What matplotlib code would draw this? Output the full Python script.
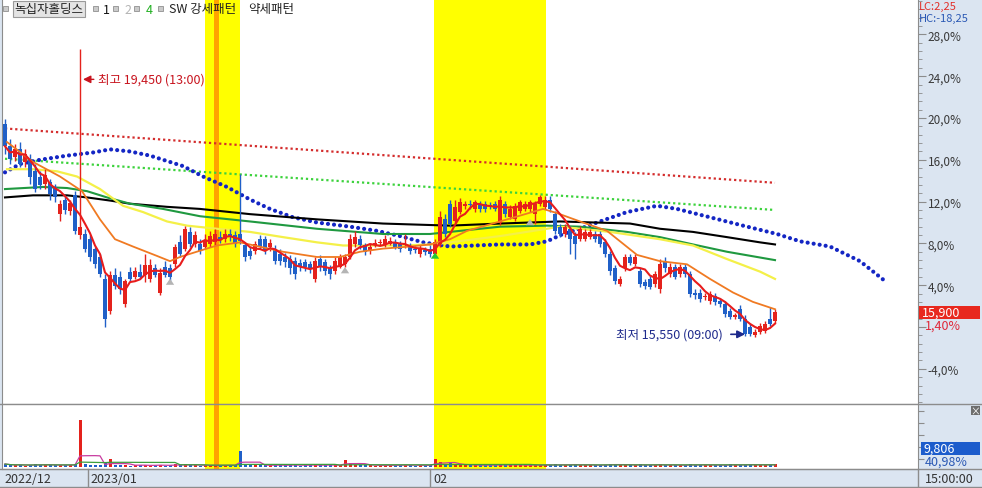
import numpy as np
import pandas as pd
import matplotlib
matplotlib.use('Agg')
import matplotlib.pyplot as plt
from matplotlib.patches import Rectangle
from matplotlib.lines import Line2D
from matplotlib.ticker import MultipleLocator

plt.rcParams['font.family'] = ['Noto Sans CJK KR', 'DejaVu Sans']

# candles, in % from the base price
opens = [
    19.4, 17.3, 16.3, 17.0, 15.8, 16.1, 14.9, 14.4, 13.7, 13.9,
    13.4, 10.8, 12.2, 11.1, 12.6, 8.8, 8.9, 8.4, 7.5, 6.7,
    4.6, 1.5, 5.0, 4.8, 2.2, 5.3, 4.8, 5.3, 5.0, 4.6,
    5.6, 3.3, 5.7, 5.6, 6.0, 8.1, 7.5, 9.1, 7.9, 7.9,
    7.7, 7.9, 8.1, 8.6, 8.4, 8.9, 8.8, 8.9, 7.8, 7.3,
    7.3, 8.4, 8.4, 7.7, 7.5, 7.0, 6.7, 6.5, 6.3, 6.1,
    6.2, 6.0, 4.6, 6.5, 6.2, 5.6, 5.4, 5.7, 6.0, 6.7,
    7.9, 8.4, 7.8, 7.3, 7.8, 8.0, 7.9, 7.9, 8.1, 7.9,
    7.8, 7.7, 7.5, 7.0, 7.4, 7.5, 7.0, 7.9, 10.3, 11.8,
    10.1, 11.0, 11.6, 11.8, 11.3, 11.8, 11.8, 11.7, 11.8, 10.0,
    11.8, 10.5, 10.3, 11.1, 11.3, 11.3, 10.8, 11.8, 11.5, 12.2,
    10.8, 9.6, 8.9, 9.4, 8.7, 8.4, 8.4, 8.6, 8.9, 8.9,
    8.1, 7.0, 5.6, 4.1, 5.6, 6.7, 6.0, 5.4, 4.3, 4.6,
    4.1, 3.6, 6.3, 5.1, 5.7, 5.1, 5.7, 5.1, 3.3, 3.3,
    2.9, 2.5, 3.0, 2.5, 2.2, 1.5, 1.0, 1.7, 0.8, 0.0,
    -0.8, -0.5, -0.4, 0.8, 0.6]
highs = [
    19.9, 18.0, 17.5, 17.7, 17.0, 16.6, 15.6, 14.9, 15.1, 14.2,
    13.7, 12.2, 12.6, 12.2, 13.0, 26.6, 9.4, 8.8, 7.7, 7.0,
    5.1, 5.4, 5.6, 5.4, 4.6, 5.7, 5.7, 6.0, 7.0, 6.5,
    6.0, 5.6, 6.3, 6.0, 7.9, 8.8, 9.7, 9.6, 9.2, 8.4,
    8.9, 9.2, 9.4, 9.2, 9.4, 9.4, 9.2, 14.6, 8.0, 7.7,
    8.2, 8.8, 8.7, 8.4, 7.8, 7.5, 7.1, 6.9, 6.7, 6.5,
    6.5, 6.3, 6.7, 6.9, 6.5, 5.9, 6.7, 7.0, 7.0, 8.9,
    9.2, 8.8, 8.0, 7.9, 8.4, 8.4, 8.8, 8.6, 8.4, 8.2,
    8.9, 8.0, 7.8, 7.8, 7.7, 7.8, 8.4, 11.1, 10.8, 12.2,
    12.2, 12.3, 12.1, 12.2, 12.2, 12.1, 12.1, 12.0, 12.1, 12.5,
    12.1, 11.7, 11.9, 12.2, 12.1, 12.2, 12.1, 12.6, 12.5, 12.5,
    11.1, 9.9, 9.9, 9.7, 9.1, 9.7, 9.4, 9.4, 9.2, 9.2,
    8.4, 7.3, 5.9, 4.9, 7.0, 7.0, 7.0, 5.6, 4.6, 4.9,
    5.4, 6.5, 6.7, 6.1, 6.0, 6.0, 6.0, 5.4, 3.6, 3.6,
    3.3, 3.4, 3.3, 2.8, 2.5, 1.8, 1.3, 2.1, 1.1, 0.3,
    -0.2, 0.4, 0.6, 1.9, 1.7]
lows = [
    16.6, 15.6, 15.9, 15.3, 15.3, 13.7, 12.9, 13.2, 13.2, 12.2,
    12.0, 10.1, 10.8, 10.7, 8.9, 8.4, 7.2, 6.3, 5.6, 4.8,
    0.0, 1.2, 3.6, 3.2, 1.9, 4.4, 4.6, 4.6, 4.3, 4.3,
    4.8, 3.1, 4.8, 4.4, 5.7, 6.7, 7.3, 7.7, 7.7, 7.0,
    7.5, 7.7, 7.8, 8.0, 8.1, 8.2, 7.7, 7.9, 6.3, 6.5,
    7.0, 7.5, 7.0, 7.3, 6.0, 5.9, 5.7, 5.1, 4.6, 5.4,
    5.4, 5.2, 4.3, 5.4, 5.0, 4.6, 5.1, 5.6, 5.7, 6.5,
    7.7, 7.5, 6.9, 7.0, 7.7, 7.8, 7.7, 7.8, 7.5, 7.2,
    7.6, 7.0, 7.1, 6.7, 6.9, 6.7, 6.7, 7.7, 8.6, 9.6,
    9.9, 10.8, 11.3, 11.3, 11.0, 11.0, 11.0, 11.3, 11.1, 9.8,
    10.5, 10.3, 10.1, 10.9, 11.1, 11.0, 9.9, 11.6, 11.3, 11.0,
    8.9, 8.6, 8.6, 7.0, 6.5, 8.2, 8.2, 8.4, 8.1, 7.7,
    6.7, 5.0, 4.1, 3.9, 5.4, 5.9, 5.8, 3.8, 3.6, 3.6,
    3.8, 3.3, 5.3, 4.8, 4.6, 4.8, 4.8, 2.9, 2.7, 2.4,
    2.6, 2.2, 2.1, 1.9, 1.0, 0.8, 0.8, 0.6, -0.9, -0.9,
    -1.0, -0.7, -0.6, 0.1, 0.4]
closes = [
    17.3, 16.1, 17.0, 15.6, 16.6, 14.4, 13.2, 13.6, 14.5, 12.7,
    12.4, 11.8, 11.2, 11.9, 9.2, 9.6, 7.5, 6.7, 6.0, 5.1,
    0.8, 5.0, 3.9, 3.6, 4.4, 4.6, 5.4, 4.8, 5.9, 5.9,
    5.0, 5.2, 5.0, 4.8, 7.7, 7.0, 9.4, 7.9, 8.8, 7.3,
    8.2, 8.7, 8.9, 8.4, 8.9, 8.6, 7.9, 8.2, 6.7, 6.8,
    7.9, 7.7, 7.3, 8.0, 6.3, 6.3, 6.2, 5.6, 5.1, 5.7,
    5.7, 5.6, 6.3, 5.7, 5.4, 5.1, 6.3, 6.7, 6.7, 8.4,
    8.6, 7.8, 7.2, 7.7, 8.0, 8.1, 8.4, 8.2, 7.7, 7.5,
    7.9, 7.3, 7.4, 7.5, 7.2, 7.0, 8.1, 10.5, 8.9, 9.9,
    11.5, 12.0, 11.8, 11.7, 12.0, 11.3, 11.3, 11.6, 11.3, 12.2,
    10.8, 11.3, 11.6, 12.0, 11.8, 12.0, 11.8, 12.4, 12.2, 11.3,
    9.2, 8.9, 9.6, 8.4, 7.9, 9.4, 9.1, 9.1, 8.4, 7.9,
    7.0, 5.4, 4.4, 4.6, 6.7, 6.1, 6.7, 4.1, 3.9, 3.8,
    5.1, 6.0, 5.6, 5.7, 4.8, 5.7, 5.1, 3.2, 3.1, 2.7,
    3.0, 3.2, 2.4, 2.2, 1.2, 1.0, 1.1, 0.8, -0.7, -0.7,
    -0.5, 0.1, 0.3, 0.3, 1.4]

# volume, thousand shares
volume = ([15, 9, 8, 11, 7, 12, 14, 9, 10, 12, 8, 10, 9, 8, 16]
          + [235]
          + [14, 10, 9, 11, 18, 38, 9, 9, 12, 7, 8, 9, 10, 7, 8]
          + [12, 7, 8, 14, 9, 15, 8, 9, 7, 8, 9, 10, 7, 8, 9, 10]
          + [80]
          + [14, 9, 8, 10, 9, 8, 11, 9, 8, 10, 12, 7, 8, 9, 14, 8, 9, 10, 9, 11]
          + [36]
          + [18, 12, 9, 8, 10, 7, 8, 9, 8, 10, 9, 12, 8, 7, 9, 8, 10]
          + [42]
          + [26, 14, 18, 12, 10, 9, 8, 11, 9, 10, 8, 9, 15, 10, 9, 11, 9, 8, 10, 12, 9, 11, 10]
          + [14, 10, 9, 12, 15, 9, 10, 8, 9, 11, 12, 15, 13, 9, 12, 10, 9, 13, 10, 9,
             11, 14, 9, 10, 8, 9, 10, 14, 11, 9, 10, 8, 11, 9, 10, 13, 12, 9, 10, 15,
             11, 10, 9, 12, 14])

# moving averages read at a few bars
ma_orange_x = [0.4, 5.6, 11, 15.4, 19, 22, 25.6, 30.4, 33, 35, 39, 42.4, 47, 55.6, 62.4, 67, 71,
               75.6, 81, 85, 89, 92.4, 99, 107.6, 110.4, 115, 120.4, 126.4, 131, 136.4, 141,
               145.6, 149.6, 154]
ma_orange_y = [17.7, 15.8, 14.4, 13.0, 10.3, 8.4, 7.7, 6.8, 6.3, 6.7, 7.3, 7.8, 8.1, 7.2, 6.7, 6.7,
               7.2, 7.5, 7.7, 7.9, 8.4, 9.2, 10.1, 11.3, 10.9, 10.1, 9.2, 6.9, 6.3, 6.0, 4.6,
               3.3, 2.4, 1.7]
ma_yellow_x = [0.4, 5.6, 10.4, 14.4, 19, 23.6, 27.6, 32.4, 36.4, 42.4, 49, 55.6, 62.4, 67.6, 79,
               85.6, 99, 111, 121, 131, 137.6, 144.4, 151, 154]
ma_yellow_y = [15.1, 15.1, 14.9, 14.4, 13.2, 11.6, 11.0, 10.1, 9.7, 9.4, 9.1, 8.6, 8.1, 7.8, 7.8,
               7.9, 8.7, 9.6, 9.1, 8.4, 7.8, 6.5, 5.3, 4.6]
ma_green_x = [0, 7.6, 12.4, 16.4, 20.4, 25, 31.6, 39, 49, 62.4, 75.6, 85, 99, 108.4, 115, 124.4,
              131, 137.6, 144.4, 154]
ma_green_y = [13.2, 13.4, 13.3, 13.0, 12.4, 11.8, 11.3, 10.6, 10.1, 9.4, 8.9, 8.9, 9.6, 9.7, 9.6,
              9.1, 8.6, 7.9, 7.2, 6.4]
ma_black_x = [0, 5.6, 12.4, 16.4, 21, 25, 32.4, 39, 49, 62.4, 75.6, 89, 99, 111, 125, 131, 137.6,
              144.4, 151, 154]
ma_black_y = [12.4, 12.6, 12.6, 12.4, 12.1, 11.8, 11.5, 11.3, 10.8, 10.3, 9.9, 9.7, 9.9, 10.1, 9.9,
              9.4, 9.1, 8.6, 8.1, 7.9]
span_blue_x = [0, 3, 7, 12.4, 17.6, 21, 25, 29, 35.6, 39.6, 44.4, 49, 53, 57.6, 62.4, 69, 74.4, 79,
               83.6, 89, 99, 105, 108.4, 111.6, 115, 118.4, 124.4, 130.4, 134.4, 141, 147.6,
               154.4, 159, 165, 171, 176]
span_blue_y = [14.8, 15.6, 16.0, 16.4, 16.7, 17.0, 16.8, 16.4, 15.4, 14.4, 13.4, 12.2, 11.3, 10.5,
               10.0, 9.6, 9.2, 8.7, 8.1, 7.7, 7.9, 7.9, 8.2, 8.9, 9.4, 10.0, 11.0, 11.6, 11.3,
               10.5, 9.7, 8.9, 8.2, 7.7, 6.3, 4.4]
band_red_x, band_red_y = [0, 154], [19.0, 13.8]
band_green_x, band_green_y = [0, 154], [16.1, 11.2]

# pattern zones and signals
strong_spans = [(40.0, 47.0), (85.8, 108.2)]
mark_span = (41.7, 42.7)
gray_sig_idx, gray_sig_tip = [33, 68, 105], [4.9, 6.0, 10.6]
green_sig_idx, green_sig_tip = [86], [7.4]

RED = '#e4221c'
BLUE = '#2060c8'
GRID = '#8c8c8c'

W, H = 982, 489
fig = plt.figure(figsize=(W / 100, H / 100), dpi=100)
fig.patch.set_facecolor('#dbe5f1')


def fx(x):
    return x / W


def fy(y):
    return 1 - y / H


ax = fig.add_axes([fx(2), fy(405), 916 / W, 405 / H])
vax = fig.add_axes([fx(2), fy(470), 916 / W, 65 / H])

idx = np.arange(len(closes))
o, h, l, c = map(np.array, (opens, highs, lows, closes))
colors = np.where(c >= o, RED, BLUE)

for a in (ax, vax):
    a.set_facecolor('white')
    a.set_xlim(-0.6, 182.6)
    for s0, s1 in strong_spans:
        a.axvspan(s0, s1, color='#ffff00', lw=0, zorder=0)
    a.axvspan(*mark_span, color='#ffa200', lw=0, zorder=0.5)
    a.set_xticks([])
    for side in ('left', 'right', 'bottom', 'top'):
        a.spines[side].set_color(GRID)
    a.spines['top'].set_visible(False)

ax.set_ylim(-7.37, 31.39)

# bands
ax.plot(band_red_x, band_red_y, color='#d42c2c', lw=1.6, linestyle=(0, (1, 1.3)), zorder=1)
ax.plot(band_green_x, band_green_y, color='#3cd23c', lw=1.6, linestyle=(0, (1, 1.3)), zorder=1)
ax.plot(span_blue_x, span_blue_y, color='#1426c4', lw=3.0, linestyle=(0, (0.01, 1.45)),
        dash_capstyle='round', zorder=1)

# moving averages
ax.plot(ma_black_x, ma_black_y, color='black', lw=1.5, zorder=2)
ax.plot(ma_green_x, ma_green_y, color='#1f9940', lw=1.5, zorder=2)
ax.plot(ma_yellow_x, ma_yellow_y, color='#f4f048', lw=1.6, zorder=2)
ax.plot(ma_orange_x, ma_orange_y, color='#f07a22', lw=1.3, zorder=4)

# candles
ax.vlines(idx, l, h, colors=colors, lw=1, zorder=3)
ax.bar(idx, c - o, bottom=o, width=0.75, color=colors, lw=0, zorder=3)
ma5 = pd.Series(closes).rolling(5, min_periods=1).mean()
ax.plot(idx, ma5, color='#e81c1c', lw=1.5, zorder=5)

# signals
for i, t in zip(gray_sig_idx, gray_sig_tip):
    ax.annotate('', xy=(i, t), xytext=(i, t - 1.0),
                arrowprops=dict(arrowstyle='simple,head_width=0.6,head_length=0.45,tail_width=0.3',
                                fc='#b4b4b4', ec='none'), zorder=6)
for i, t in zip(green_sig_idx, green_sig_tip):
    ax.annotate('', xy=(i, t), xytext=(i, t - 1.0),
                arrowprops=dict(arrowstyle='simple,head_width=0.6,head_length=0.45,tail_width=0.3',
                                fc='#22c832', ec='none'), zorder=6)

# high / low notes
ax.annotate('최고 19,450 (13:00)', xy=(15.6, 23.7), xytext=(18.6, 23.7), color='#c8141e',
            fontsize=9, ha='left', va='center',
            arrowprops=dict(arrowstyle='-|>,head_width=0.25,head_length=0.5', color='#c8141e',
                            lw=1, shrinkA=1, shrinkB=0))
ax.annotate('최저 15,550 (09:00)', xy=(148, -0.7), xytext=(143.5, -0.7), color='#1e2a8c',
            fontsize=9, ha='right', va='center',
            arrowprops=dict(arrowstyle='-|>,head_width=0.25,head_length=0.5', color='#1e2a8c',
                            lw=1.2, shrinkA=4, shrinkB=0))

# right price scale
ax.yaxis.tick_right()
yt = np.arange(-4, 29, 4)
ax.set_yticks(yt)
ax.set_yticklabels(['' if v == 0 else f'{v},0%' for v in yt])
ax.yaxis.set_minor_locator(MultipleLocator(0.8))
ax.tick_params(axis='y', which='major', length=6, color=GRID, pad=1, labelsize=8.5,
               labelcolor='#3a3a3a')
ax.tick_params(axis='y', which='minor', length=3, color=GRID)

# volume
vax.set_ylim(-10, 315)
vax.bar(idx, volume, width=0.6, color=colors, lw=0, zorder=3)
vs = pd.Series(volume)
vax.plot(idx, vs.rolling(5, min_periods=1).mean(), color='#c83ca0', lw=0.9, zorder=4)
vax.plot(idx, vs.rolling(20, min_periods=1).mean(), color='#3ca03c', lw=0.9, zorder=4)
vax.yaxis.tick_right()
vax.set_yticks([40, 100, 160, 220, 280])
vax.set_yticklabels([])
vax.tick_params(axis='y', length=4, color=GRID)

# frame lines
for yy in (405, 470, 488):
    fig.add_artist(Line2D([0, 1], [fy(yy), fy(yy)], color=GRID, lw=1))
for xx in (88, 430, 918):
    fig.add_artist(Line2D([fx(xx), fx(xx)], [fy(470), fy(488)], color=GRID, lw=1))

# legend row
for xx in (3, 93, 113, 134, 158):
    fig.add_artist(Rectangle((fx(xx), fy(12)), 5 / W, 5 / H, transform=fig.transFigure,
                             fc='#cacaca', ec='#909090', lw=0.6))
fig.text(fx(14), fy(10), '녹십자홀딩스', fontsize=9, va='center', ha='left', color='#222222',
         bbox=dict(boxstyle='square,pad=0.12', fc='#e4e4e4', ec='#9a9a9a', lw=0.8))
fig.text(fx(103), fy(10), '1', fontsize=9, va='center', color='#111111')
fig.text(fx(124), fy(10), '2', fontsize=9, va='center', color='#b4b4b4')
fig.text(fx(146), fy(10), '4', fontsize=9, va='center', color='#22b022')
fig.text(fx(169), fy(10), 'SW 강세패턴', fontsize=9, va='center', color='#222222')
fig.text(fx(248), fy(10), '약세패턴', fontsize=9, va='center', color='#222222')

# right panel labels
fig.text(fx(919), fy(6.5), 'LC:2,25', fontsize=8, va='center', color='#e2302a')
fig.text(fx(919), fy(19), 'HC:-18,25', fontsize=8, va='center', color='#2a58b4')
fig.add_artist(Rectangle((fx(919), fy(320)), 61 / W, 13 / H, transform=fig.transFigure,
                         fc='#e8281e', ec='none'))
fig.text(fx(922), fy(313.5), '15,900', fontsize=9, va='center', color='white')
fig.text(fx(925), fy(326), '1,40%', fontsize=9, va='center', color='#e0283a')
fig.add_artist(Rectangle((fx(921), fy(456)), 59 / W, 13 / H, transform=fig.transFigure,
                         fc='#1c5ccc', ec='none'))
fig.text(fx(923), fy(449.5), '9,806', fontsize=9, va='center', color='white')
fig.text(fx(925), fy(462), '40,98%', fontsize=9, va='center', color='#2a58b4')
fig.add_artist(Rectangle((fx(971), fy(416)), 9 / W, 9 / H, transform=fig.transFigure,
                         fc='#6e6e6e', ec='none'))
fig.text(fx(975.5), fy(411.5), '×', fontsize=7, ha='center', va='center', color='white')

# time axis
fig.text(fx(4), fy(480), '2022/12', fontsize=9, va='center', color='#333333')
fig.text(fx(90), fy(480), '2023/01', fontsize=9, va='center', color='#333333')
fig.text(fx(433), fy(480), '02', fontsize=9, va='center', color='#333333')
fig.text(fx(925), fy(480), '15:00:00', fontsize=9, va='center', color='#333333')

fig.savefig('out.png', dpi=100, facecolor=fig.get_facecolor())
